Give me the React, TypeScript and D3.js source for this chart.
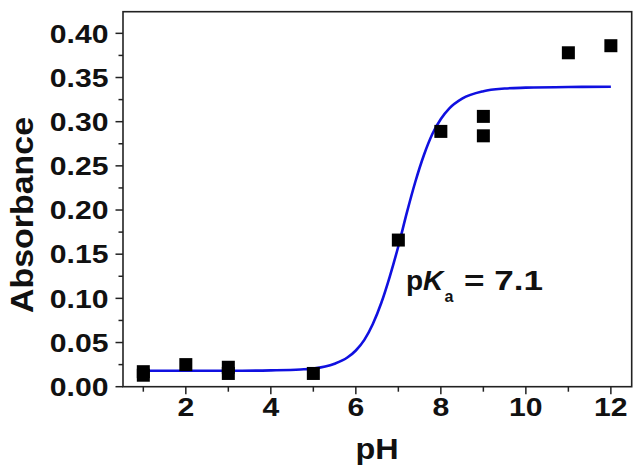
import React from "react";
import * as d3 from "d3";

// Measured data points (pH, absorbance)
const phValues = [1, 1, 2, 3, 3, 5, 7, 8, 9, 9, 11, 12];
const absorbance = [0.017, 0.013, 0.025, 0.022, 0.015, 0.015, 0.166, 0.289, 0.306, 0.284, 0.378, 0.386];

// Fitted curve
const fitPH = [1, 2, 3, 4, 4.7, 5, 5.5, 5.8, 6.0, 6.2, 6.4, 6.6, 6.8, 7.0, 7.2, 7.4, 7.6, 7.8, 8.0, 8.2, 8.5, 9.0, 9.5, 10, 11, 12];
const fitAbs = [0.018, 0.018, 0.018, 0.0185, 0.0195, 0.0205, 0.026, 0.033, 0.041, 0.053, 0.071, 0.095, 0.125, 0.159, 0.197, 0.232, 0.262, 0.286, 0.303, 0.315, 0.326, 0.3345, 0.3375, 0.3385, 0.3393, 0.3395];

const xTickValues = [1, 2, 3, 4, 5, 6, 7, 8, 9, 10, 11, 12];
const xTickLabels = ["", "2", "", "4", "", "6", "", "8", "", "10", "", "12"];
const yTickValues = [0, 0.025, 0.05, 0.075, 0.1, 0.125, 0.15, 0.175, 0.2, 0.225, 0.25, 0.275, 0.3, 0.325, 0.35, 0.375, 0.4];
const yTickLabels = ["0.00", "", "0.05", "", "0.10", "", "0.15", "", "0.20", "", "0.25", "", "0.30", "", "0.35", "", "0.40"];

const W = 644;
const H = 474;
const left = 123;
const right = 631.7;
const top = 11.7;
const bottom = 386.7;

const FONT = "'Liberation Sans', Arial, Helvetica, sans-serif";

export default function App() {
  const x = d3.scaleLinear().domain([0.522, 12.49]).range([left, right]);
  const y = d3.scaleLinear().domain([0, 0.4245]).range([bottom, top]);

  const line = d3
    .line<number>()
    .x((_, i) => x(fitPH[i]))
    .y((d) => y(d))
    .curve(d3.curveMonotoneX);

  const sq = 13;

  return (
    <svg
      width={W}
      height={H}
      style={{ position: "absolute", left: 0, top: 0, background: "#fff" }}
      fontFamily={FONT}
      fontWeight="bold"
    >
      <rect x={0} y={0} width={W} height={H} fill="#fff" />
      {/* frame */}
      <rect
        x={left}
        y={top}
        width={right - left}
        height={bottom - top}
        fill="none"
        stroke="#222"
        strokeWidth={1.6}
      />
      {/* y ticks */}
      {yTickValues.map((v, i) => {
        const major = yTickLabels[i] !== "";
        const yy = y(v);
        return (
          <g key={"y" + i}>
            <line x1={left} x2={left - (major ? 7.5 : 4.5)} y1={yy} y2={yy} stroke="#222" strokeWidth={1.5} />
            {major && (
              <text
                transform={`translate(108.5, ${yy + 9.3}) scale(1.16, 1)`}
                textAnchor="end"
                fontSize={26}
                fill="#111"
              >
                {yTickLabels[i]}
              </text>
            )}
          </g>
        );
      })}
      {/* x ticks */}
      {xTickValues.map((v, i) => {
        const major = xTickLabels[i] !== "";
        const xx = x(v);
        return (
          <g key={"x" + i}>
            <line x1={xx} x2={xx} y1={bottom} y2={bottom + (major ? 7.5 : 5)} stroke="#222" strokeWidth={1.5} />
            {major && (
              <text
                transform={`translate(${xx}, 416) scale(1.16, 1)`}
                textAnchor="middle"
                fontSize={26}
                fill="#111"
              >
                {xTickLabels[i]}
              </text>
            )}
          </g>
        );
      })}
      {/* axis titles */}
      <text
        transform={`translate(33, 215) rotate(-90) scale(1.06, 1)`}
        textAnchor="middle"
        fontSize={32}
        fill="#111"
      >
        Absorbance
      </text>
      <text transform={`translate(377, 459) scale(1.08, 1)`} textAnchor="middle" fontSize={30} fill="#111">
        pH
      </text>
      {/* fit curve */}
      <path d={line(fitAbs) || ""} fill="none" stroke="#1010e0" strokeWidth={2.6} />
      {/* data squares */}
      {phValues.map((p, i) => (
        <rect
          key={"d" + i}
          x={x(p) - sq / 2}
          y={y(absorbance[i]) - sq / 2}
          width={sq}
          height={sq}
          fill="#000"
        />
      ))}
      {/* annotation */}
      <text x={406} y={290} fontSize={28} fill="#111">
        p
        <tspan fontStyle="italic">K</tspan>
      </text>
      <text x={444.5} y={302} fontSize={16} fill="#111">
        a
      </text>
      <text transform={`translate(464, 290) scale(1.3, 1)`} fontSize={27} fill="#111">
        = 7.1
      </text>
    </svg>
  );
}
